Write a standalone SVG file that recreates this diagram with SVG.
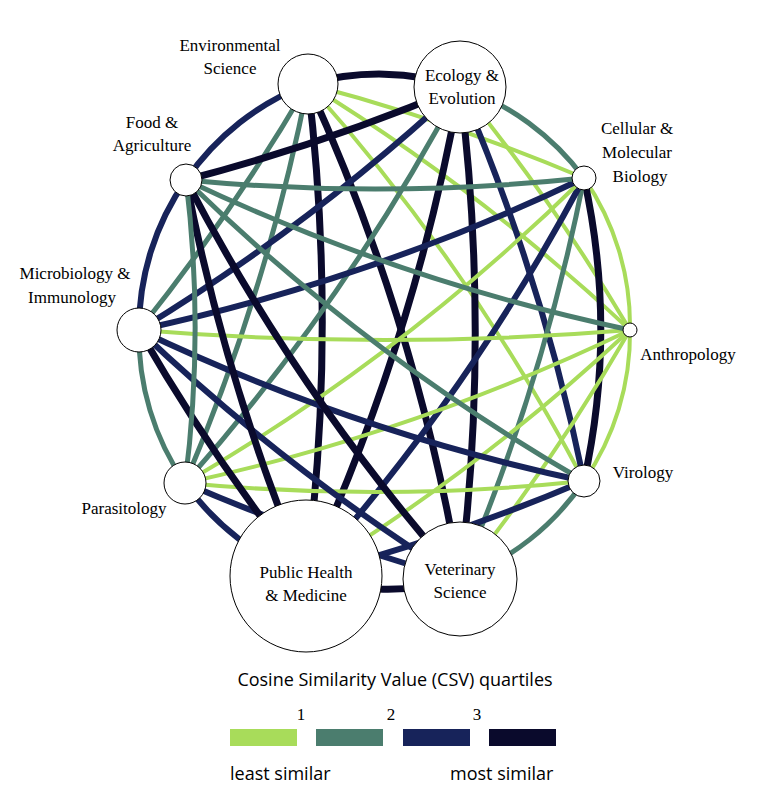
<svg xmlns="http://www.w3.org/2000/svg" width="763" height="804" viewBox="0 0 763 804">
<style>
.e{fill:none}
.q1{stroke:#a8dc5a;stroke-width:4}
.q2{stroke:#4b7d6e;stroke-width:5}
.q3{stroke:#17235a;stroke-width:6}
.q4{stroke:#0a0a2c;stroke-width:7}
.n{fill:#fff;stroke:#000;stroke-width:1}
.l{font-family:"Liberation Serif","Times New Roman",serif;font-size:17px;fill:#000;text-anchor:middle}
.s{font-family:"Open Sans","Liberation Sans",sans-serif;font-size:18px;fill:#000}
</style>
<rect width="763" height="804" fill="#fff"/>
<g id="connectors" class="e">
<path class="q4" d="M308 84 A260 260 0 0 1 460 87"/>
<path class="q1" d="M308 84 A2000 2000 0 0 1 584 178"/>
<path class="q1" d="M308 84 A2000 2000 0 0 1 630 330"/>
<path class="q1" d="M308 84 A2000 2000 0 0 1 584 481"/>
<path class="q4" d="M308 84 A2000 2000 0 0 1 460 579"/>
<path class="q4" d="M308 84 A2000 2000 0 0 1 306 576"/>
<path class="q2" d="M308 84 A2000 2000 0 0 1 185 483"/>
<path class="q2" d="M308 84 A2000 2000 0 0 1 139 330"/>
<path class="q3" d="M186 180 A260 260 0 0 1 308 84"/>
<path class="q2" d="M460 87 A260 260 0 0 1 584 178"/>
<path class="q1" d="M460 87 A2000 2000 0 0 1 630 330"/>
<path class="q3" d="M460 87 A2000 2000 0 0 1 584 481"/>
<path class="q4" d="M460 87 A2000 2000 0 0 1 460 579"/>
<path class="q4" d="M460 87 A2000 2000 0 0 1 306 576"/>
<path class="q2" d="M460 87 A2000 2000 0 0 1 185 483"/>
<path class="q3" d="M460 87 A2000 2000 0 0 1 139 330"/>
<path class="q4" d="M460 87 A2000 2000 0 0 1 186 180"/>
<path class="q1" d="M584 178 A260 260 0 0 1 630 330"/>
<path class="q4" d="M584 178 A700 700 0 0 1 584 481"/>
<path class="q2" d="M584 178 A2000 2000 0 0 1 460 579"/>
<path class="q3" d="M584 178 A2000 2000 0 0 1 306 576"/>
<path class="q1" d="M584 178 A2000 2000 0 0 1 185 483"/>
<path class="q3" d="M584 178 A2000 2000 0 0 1 139 330"/>
<path class="q2" d="M584 178 A2000 2000 0 0 1 186 180"/>
<path class="q1" d="M630 330 A260 260 0 0 1 584 481"/>
<path class="q1" d="M630 330 A2000 2000 0 0 1 460 579"/>
<path class="q1" d="M630 330 A2000 2000 0 0 1 306 576"/>
<path class="q1" d="M630 330 A2000 2000 0 0 1 185 483"/>
<path class="q1" d="M630 330 A3000 3000 0 0 1 139 330"/>
<path class="q2" d="M630 330 A2000 2000 0 0 1 186 180"/>
<path class="q2" d="M584 481 A260 260 0 0 1 460 579"/>
<path class="q3" d="M584 481 A2000 2000 0 0 1 306 576"/>
<path class="q1" d="M584 481 A2000 2000 0 0 1 185 483"/>
<path class="q3" d="M584 481 A2000 2000 0 0 1 139 330"/>
<path class="q2" d="M584 481 A2000 2000 0 0 1 186 180"/>
<path class="q4" d="M460 579 A260 260 0 0 1 306 576"/>
<path class="q3" d="M460 579 A2000 2000 0 0 1 185 483"/>
<path class="q3" d="M460 579 A2000 2000 0 0 1 139 330"/>
<path class="q4" d="M460 579 A2000 2000 0 0 1 186 180"/>
<path class="q3" d="M306 576 A260 260 0 0 1 185 483"/>
<path class="q4" d="M306 576 A2000 2000 0 0 1 139 330"/>
<path class="q4" d="M306 576 A2000 2000 0 0 1 186 180"/>
<path class="q2" d="M185 483 A260 260 0 0 1 139 330"/>
<path class="q2" d="M185 483 A1200 1200 0 0 0 186 180"/>
<path class="q3" d="M139 330 A260 260 0 0 1 186 180"/>
</g>
<g id="node-env"><circle class="n" cx="308" cy="84" r="30"/><text class="l" x="230" y="51">Environmental</text><text class="l" x="230" y="74">Science</text></g>
<g id="node-eco"><circle class="n" cx="460" cy="87" r="46"/><text class="l" x="462" y="81">Ecology &amp;</text><text class="l" x="462" y="104">Evolution</text></g>
<g id="node-cell"><circle class="n" cx="584" cy="178" r="12"/><text class="l" x="637" y="134">Cellular &amp;</text><text class="l" x="637" y="158">Molecular</text><text class="l" x="640" y="182">Biology</text></g>
<g id="node-anthro"><circle class="n" cx="630" cy="330" r="7"/><text class="l" x="688" y="360">Anthropology</text></g>
<g id="node-vir"><circle class="n" cx="584" cy="481" r="16"/><text class="l" x="643" y="478">Virology</text></g>
<g id="node-vet"><circle class="n" cx="460" cy="579" r="57"/><text class="l" x="460" y="575">Veterinary</text><text class="l" x="460" y="598">Science</text></g>
<g id="node-ph"><circle class="n" cx="306" cy="576" r="76"/><text class="l" x="306" y="578">Public Health</text><text class="l" x="306" y="601">&amp; Medicine</text></g>
<g id="node-para"><circle class="n" cx="185" cy="483" r="21"/><text class="l" x="124" y="514">Parasitology</text></g>
<g id="node-micro"><circle class="n" cx="139" cy="330" r="22"/><text class="l" x="75" y="279">Microbiology &amp;</text><text class="l" x="72" y="303">Immunology</text></g>
<g id="node-food"><circle class="n" cx="186" cy="180" r="16"/><text class="l" x="152" y="128">Food &amp;</text><text class="l" x="152" y="151">Agriculture</text></g>
<g id="legend">
<text class="s" x="395" y="686" text-anchor="middle">Cosine Similarity Value (CSV) quartiles</text>
<rect x="230" y="729" width="67" height="17" fill="#a8dc5a"/>
<rect x="316" y="729" width="67" height="17" fill="#4b7d6e"/>
<rect x="403" y="729" width="67" height="17" fill="#17235a"/>
<rect x="489" y="729" width="67" height="17" fill="#0a0a2c"/>
<text class="l" x="301" y="720">1</text>
<text class="l" x="391" y="720">2</text>
<text class="l" x="477" y="720">3</text>
<text class="s" x="230" y="780">least similar</text>
<text class="s" x="450" y="780">most similar</text>
</g>
</svg>
